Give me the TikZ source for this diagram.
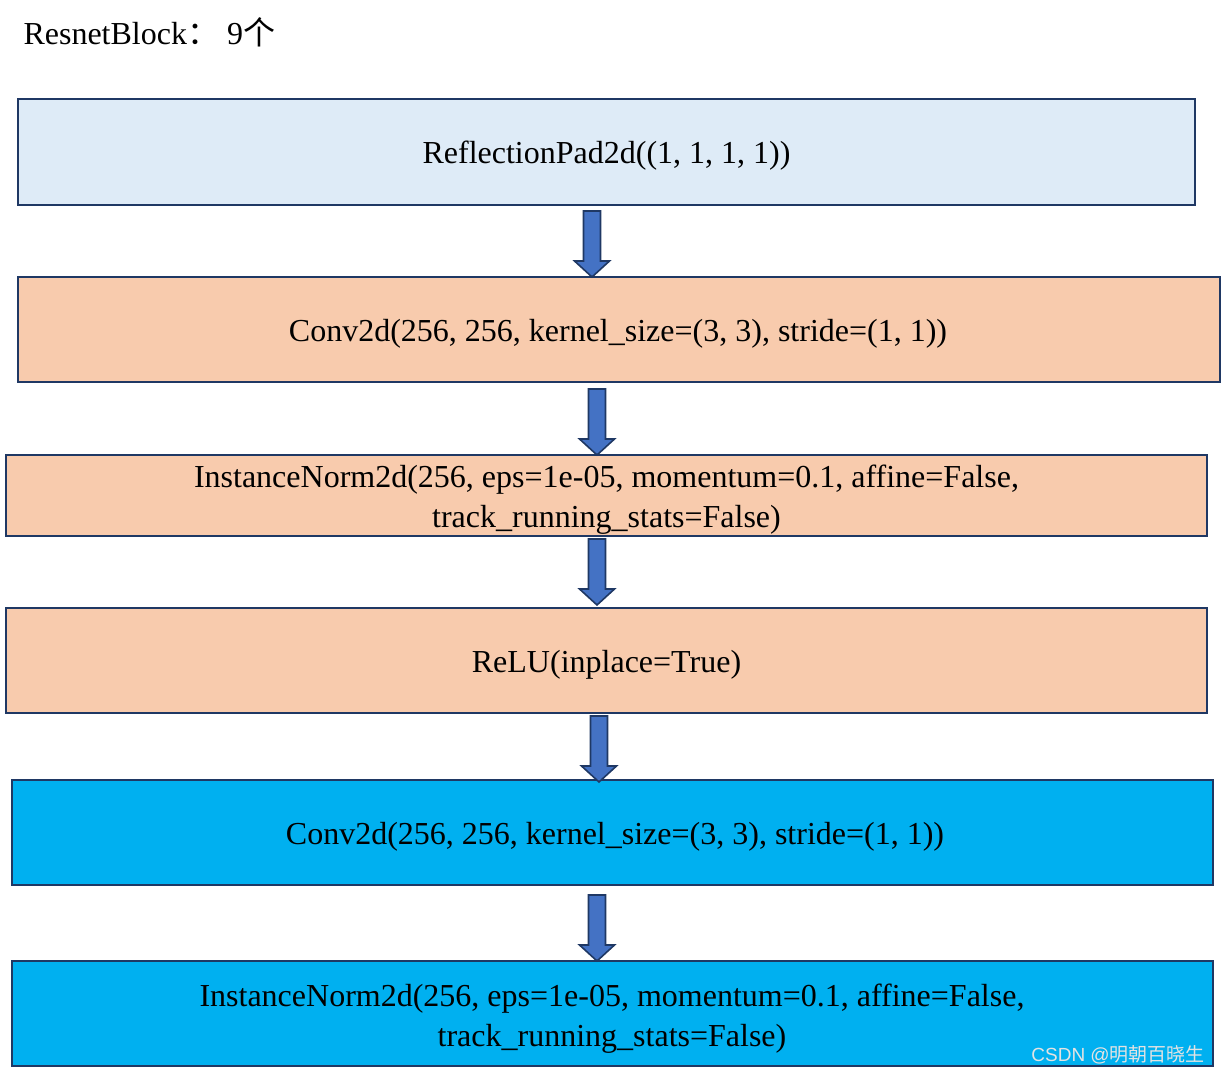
\documentclass[tikz,border=0pt]{standalone}
\usepackage{fontspec}
\setmainfont{Liberation Serif}
\newfontfamily\cjk{Noto Sans CJK SC}
\newfontfamily\wmfont{Liberation Sans}
\definecolor{lblue}{HTML}{DEEBF7}
\definecolor{peach}{HTML}{F8CBAD}
\definecolor{cyanb}{HTML}{00B0F0}
\definecolor{navy}{HTML}{1F3864}
\definecolor{arrblue}{HTML}{4472C4}
\newcommand\darrow[4]{%
  \draw[arr] (#1-8.5,#2) -- (#1+8.5,#2) -- (#1+8.5,#3-16) -- (#1+17.5,#3-16)
    -- (#1,#3) coordinate (#4) -- (#1-17.5,#3-16) -- (#1-8.5,#3-16) -- cycle;}
\begin{document}
\begin{tikzpicture}[x=1pt,y=-1pt,
  box/.style={draw=navy, line width=2pt, inner sep=0pt,
    font=\fontsize{32}{40}\selectfont, align=center},
  arr/.style={draw=navy, line width=1.6pt, fill=arrblue, line join=miter}]
\useasboundingbox (0,0) rectangle (1221,1075);
\node[anchor=west, font=\fontsize{32}{36}\selectfont] (title) at (20,32) {ResnetBlock{\cjk ：} 9{\cjk 个}};
% boxes
\path[box, fill=lblue] (18,99) rectangle (1195,205);
\node[box, draw=none] (b1) at (606.5,156) {ReflectionPad2d((1, 1, 1, 1))};
\path[box, fill=peach] (18,277) rectangle (1220,382);
\node[box, draw=none] (b2) at (618,334) {Conv2d(256, 256, kernel\_size=(3, 3), stride=(1, 1))};
\path[box, fill=peach] (6,455) rectangle (1207,536);
\node[box, draw=none] (b3) at (606.5,500) {InstanceNorm2d(256, eps=1e-05, momentum=0.1, affine=False,\\track\_running\_stats=False)};
\path[box, fill=peach] (6,608) rectangle (1207,713);
\node[box, draw=none] (b4) at (606.5,665) {ReLU(inplace=True)};
\path[box, fill=cyanb] (12,780) rectangle (1213,885);
\node[box, draw=none] (b5) at (615,837) {Conv2d(256, 256, kernel\_size=(3, 3), stride=(1, 1))};
\path[box, fill=cyanb] (12,961) rectangle (1213,1066);
\node[box, draw=none] (b6) at (612,1019) {InstanceNorm2d(256, eps=1e-05, momentum=0.1, affine=False,\\track\_running\_stats=False)};
% arrows
\darrow{592}{211}{277}{a1}
\darrow{597}{389}{455}{a2}
\darrow{597}{539}{605}{a3}
\darrow{599}{716}{782}{a4}
\darrow{597}{895}{961}{a5}
% watermark
\node[anchor=east, inner sep=0pt, text=white!78!gray, font=\fontsize{19}{22}\selectfont] (wm) at (1205,1055) {\wmfont CSDN @{\cjk 明朝百晓生}};
\end{tikzpicture}
\end{document}
